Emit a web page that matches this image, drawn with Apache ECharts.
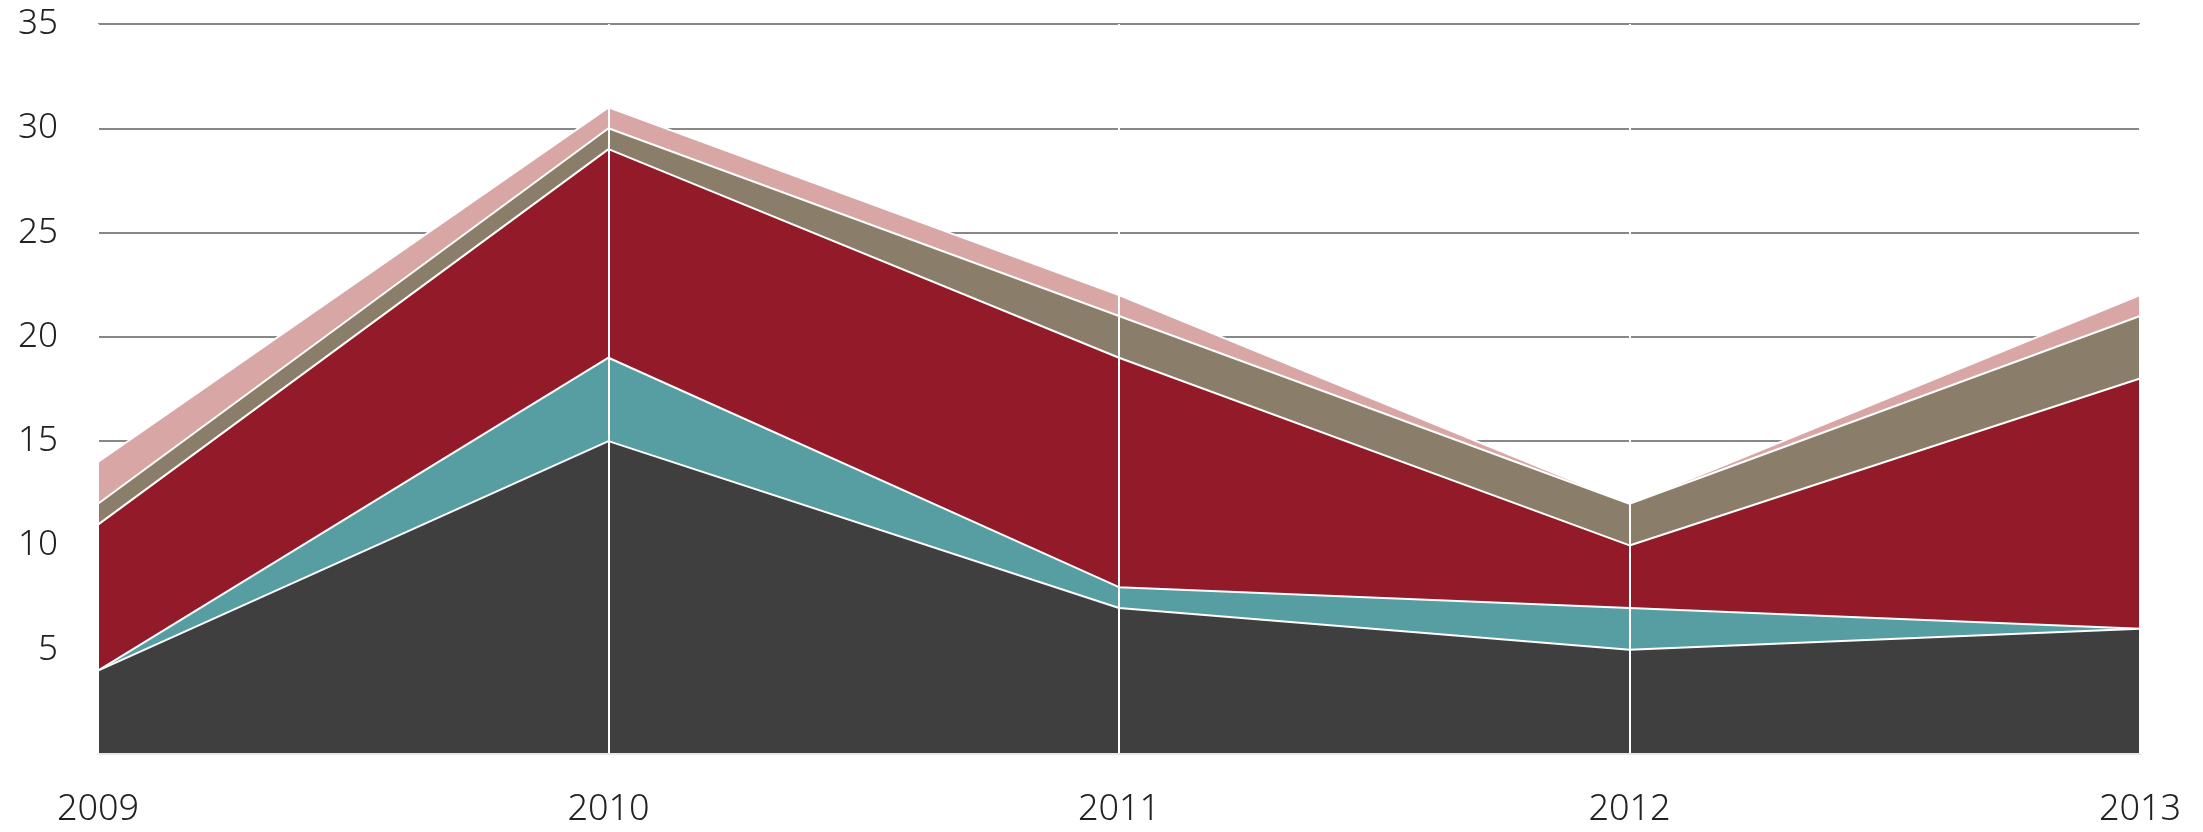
<!DOCTYPE html>
<html>
<head>
<meta charset="utf-8">
<script src="https://cdn.jsdelivr.net/npm/echarts@6/dist/echarts.min.js"></script>
<style>
html,body{margin:0;padding:0;background:#fff;}
#chart{width:2203px;height:832px;}
</style>
</head>
<body>
<div id="chart"></div>
<script>
var years = ['2009', '2010', '2011', '2012', '2013'];
var seriesDark  = [4, 15, 7, 5, 6];
var seriesTeal  = [0, 4, 1, 2, 0];
var seriesRed   = [7, 10, 11, 3, 12];
var seriesBrown = [1, 1, 2, 2, 3];
var seriesPink  = [2, 1, 1, 0, 1];
var yTicks = [0, 5, 10, 15, 20, 25, 30, 35];

var colors = ['#3f3f3f', '#579ea2', '#921a29', '#8a7d6a', '#d9a6a6'];
var data = [seriesDark, seriesTeal, seriesRed, seriesBrown, seriesPink];

var fontFamily = '"Noto Sans", "Open Sans", sans-serif';

var chart = echarts.init(document.getElementById('chart'), null, {renderer: 'canvas'});
chart.setOption({
  animation: false,
  backgroundColor: '#ffffff',
  grid: {left: 98, right: 63, top: 24, bottom: 78, containLabel: false},
  xAxis: {
    type: 'category',
    data: years,
    boundaryGap: false,
    z: 20,
    axisLine: {show: true, lineStyle: {color: '#e8e8e8', width: 2}},
    axisTick: {show: false},
    axisLabel: {
      show: true, margin: 38, color: '#222', fontSize: 36, fontWeight: 300,
      fontFamily: fontFamily
    },
    splitLine: {show: true, lineStyle: {color: '#ffffff', width: 2}}
  },
  yAxis: {
    type: 'value',
    min: yTicks[0],
    max: yTicks[yTicks.length - 1],
    interval: 5,
    axisLine: {show: false},
    axisTick: {show: false},
    axisLabel: {
      show: true, margin: 40, color: '#222', fontSize: 35, fontWeight: 300,
      fontFamily: fontFamily,
      formatter: function (v) { return v === 0 ? '' : String(v); }
    },
    splitLine: {show: true, lineStyle: {color: '#888888', width: 2}}
  },
  series: data.map(function (d, i) {
    return {
      type: 'line',
      stack: 'total',
      data: d,
      symbol: 'none',
      z: 10 - i,
      lineStyle: {color: '#ffffff', width: 2},
      areaStyle: {color: colors[i], opacity: 1},
      itemStyle: {color: colors[i]}
    };
  })
});
</script>
</body>
</html>
